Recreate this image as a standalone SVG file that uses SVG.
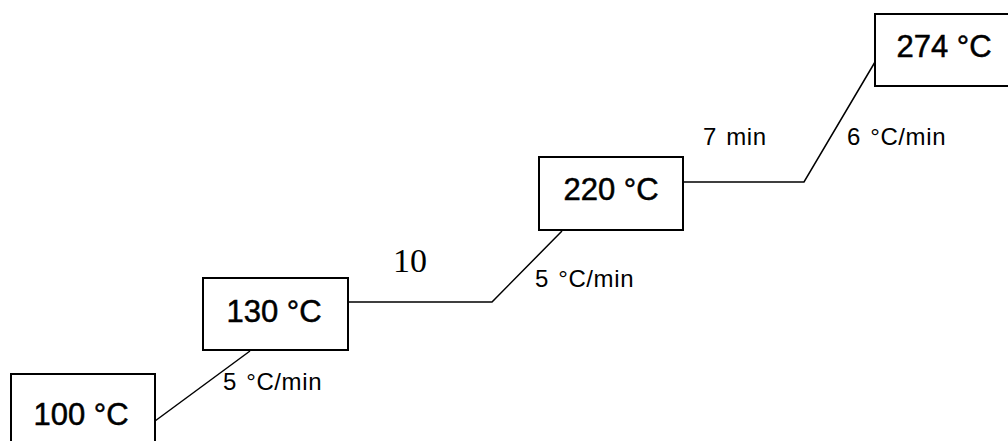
<svg xmlns="http://www.w3.org/2000/svg" width="1008" height="441" viewBox="0 0 1008 441">
<style>
.box{fill:#fff;stroke:#000;stroke-width:2}
.t{font-family:"Liberation Sans",Arial,sans-serif;font-size:31px;fill:#000;stroke:#000;stroke-width:0.5;text-anchor:middle}
.l{font-family:"Liberation Sans",Arial,sans-serif;font-size:24px;letter-spacing:0.6px;word-spacing:2px;fill:#000}
.s{font-family:"Liberation Serif","Times New Roman",serif;font-size:34px;fill:#000}
.c{fill:none;stroke:#000;stroke-width:1.5}
</style>
<rect width="1008" height="441" fill="#fff"/>
<g id="connectors">
<polyline class="c" points="155,421 250,351"/>
<polyline class="c" points="348,302 492,302 562,231"/>
<polyline class="c" points="683,182 804,182 875,62"/>
</g>
<g id="n100"><rect class="box" x="11" y="374" width="144" height="80"/><text class="t" x="81" y="425">100 °C</text></g>
<g id="n130"><rect class="box" x="203" y="278" width="145" height="72"/><text class="t" x="274" y="322">130 °C</text></g>
<g id="n220"><rect class="box" x="539" y="157" width="144" height="73"/><text class="t" x="611" y="200">220 °C</text></g>
<g id="n274"><rect class="box" x="875" y="14" width="150" height="72"/><text class="t" x="944" y="57">274 °C</text></g>
<g id="labels">
<text class="l" x="223" y="390">5 °C/min</text>
<text class="s" x="393" y="272">10</text>
<text class="l" x="535" y="287">5 °C/min</text>
<text class="l" x="703" y="145">7 min</text>
<text class="l" x="847" y="145">6 °C/min</text>
</g>
</svg>
